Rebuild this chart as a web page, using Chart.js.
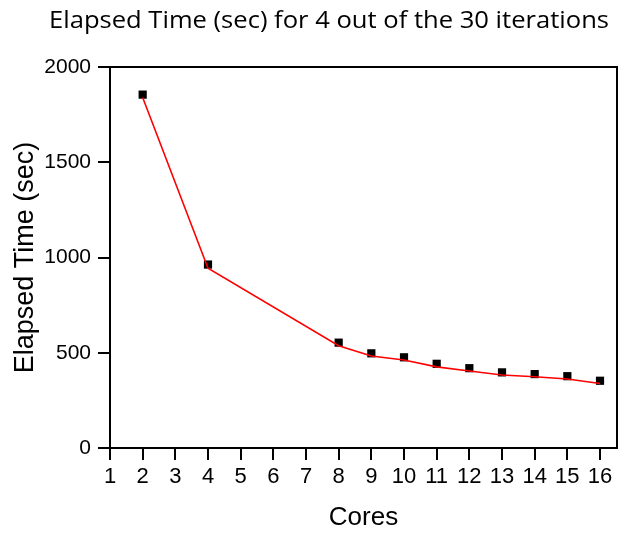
<!DOCTYPE html>
<html>
<head>
<meta charset="utf-8">
<script src="https://cdn.jsdelivr.net/npm/chart.js@4"></script>
<style>
  html, body { margin: 0; padding: 0; background: #fff; }
  #wrap { width: 625px; height: 533px; }
</style>
</head>
<body>
<div id="wrap"><canvas id="chart" width="625" height="533"></canvas></div>
<script>
const titleText = "Elapsed Time (sec) for 4 out of the 30 iterations";
const cores = [2, 4, 8, 9, 10, 11, 12, 13, 14, 15, 16];
const measured = [1855, 963, 553, 497, 476, 442, 419, 397, 388, 377, 353];
const fitted = [1840, 944, 537, 483, 462, 426, 404, 383, 374, 362, 339];
const xTicks = [1, 2, 3, 4, 5, 6, 7, 8, 9, 10, 11, 12, 13, 14, 15, 16];

// title drawn by hand so it can sit off-centre like the original, plus the box frame
const framePlugin = {
  id: "frame",
  afterDraw(chart) {
    const { ctx, chartArea: a } = chart;
    ctx.save();
    ctx.strokeStyle = "#000";
    ctx.lineWidth = 2;
    ctx.strokeRect(a.left, a.top, a.right - a.left, a.bottom - a.top);
    ctx.fillStyle = "#000";
    ctx.font = '23px "Open Sans"';
    ctx.textAlign = "center";
    ctx.textBaseline = "alphabetic";
    // the original title is a bit wider than Open Sans, stretch it to the same span
    const w = ctx.measureText(titleText).width;
    ctx.translate(329, 27.5);
    ctx.scale(560 / w, 1);
    ctx.fillText(titleText, 0, 0);
    ctx.restore();
  },
};

const points = cores.map((c, i) => ({ x: c, y: measured[i] }));
const line = cores.map((c, i) => ({ x: c, y: fitted[i] }));

new Chart(document.getElementById("chart").getContext("2d"), {
  type: "scatter",
  data: {
    datasets: [
      {
        label: "Fit",
        data: line,
        borderColor: "#ff0000",
        borderWidth: 1.6,
        showLine: true,
        pointRadius: 0,
        fill: false,
        order: 1,
      },
      {
        label: "Elapsed",
        data: points,
        pointStyle: "rect",
        pointRadius: 5.8,
        backgroundColor: "#000",
        borderColor: "#000",
        borderWidth: 0,
        showLine: false,
        order: 2,
      },
    ],
  },
  options: {
    responsive: false,
    animation: false,
    layout: { padding: { top: 67, right: 8, bottom: 0, left: 0 } },
    plugins: {
      legend: { display: false },
      tooltip: { enabled: false },
      title: { display: false },
    },
    scales: {
      x: {
        type: "linear",
        min: 1,
        max: 16.52,
        afterBuildTicks: (s) => { s.ticks = xTicks.map((v) => ({ value: v })); },
        afterFit: (s) => { s.height = 85; },
        border: { display: true, color: "#000", width: 2 },
        grid: { drawOnChartArea: false, drawTicks: true, tickLength: 12, color: "#000", lineWidth: 2 },
        ticks: {
          color: "#000",
          padding: 4,
          maxRotation: 0,
          autoSkip: false,
          font: { family: '"Liberation Sans", Arial', size: 22 },
        },
        title: {
          display: true,
          text: "Cores",
          color: "#000",
          padding: { top: 0, bottom: 0 },
          font: { family: '"Liberation Sans", Arial', size: 26 },
        },
      },
      y: {
        min: 0,
        max: 2000,
        afterFit: (s) => { s.width = 110; },
        border: { display: true, color: "#000", width: 2 },
        grid: { drawOnChartArea: false, drawTicks: true, tickLength: 12, color: "#000", lineWidth: 2 },
        ticks: {
          stepSize: 500,
          color: "#000",
          padding: 7,
          callback: (v) => String(v),
          font: { family: '"Liberation Sans", Arial', size: 21 },
        },
        title: {
          display: true,
          text: "Elapsed Time (sec)",
          color: "#000",
          padding: { top: 9, bottom: 0 },
          font: { family: '"Liberation Sans", Arial', size: 27 },
        },
      },
    },
  },
  plugins: [framePlugin],
});
</script>
</body>
</html>
